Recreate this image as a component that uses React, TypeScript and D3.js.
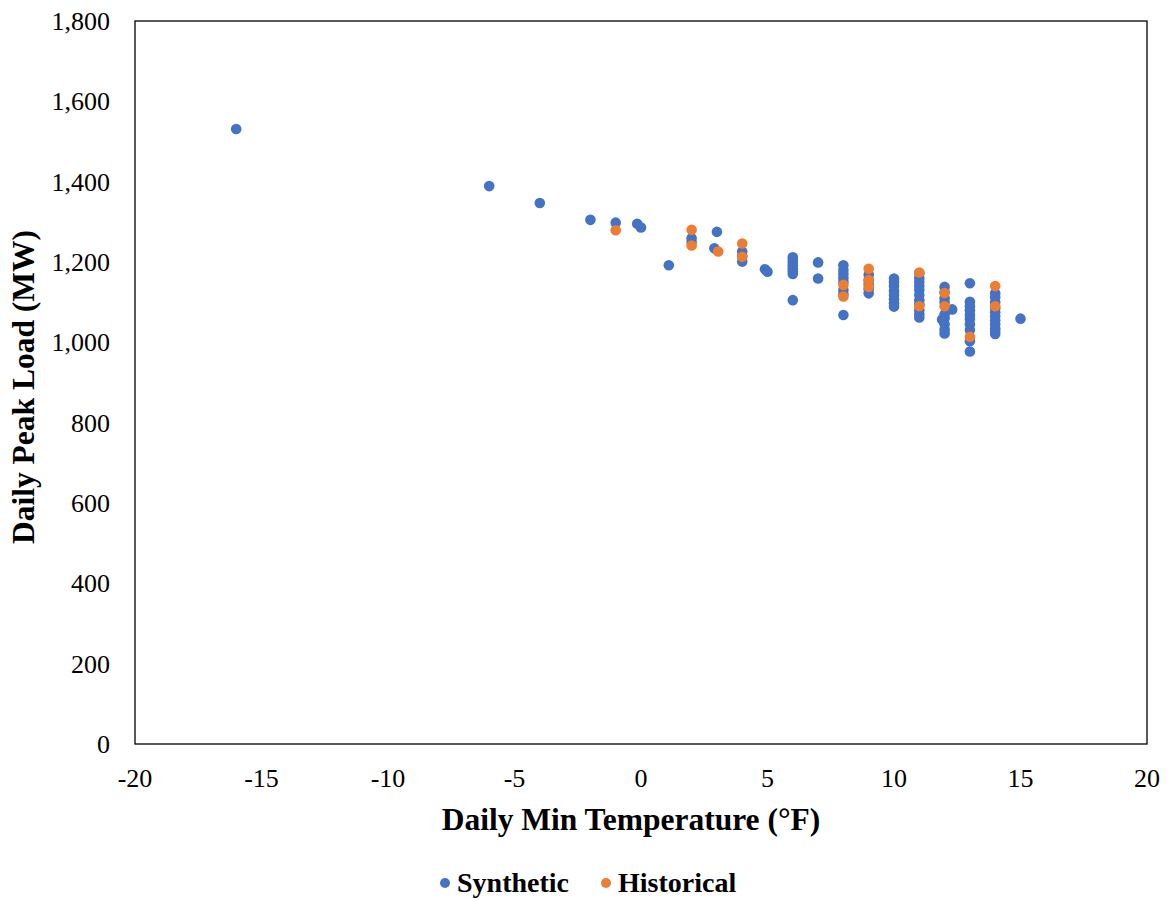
import React from "react";
import * as d3 from "d3";

const xTicks = [-20, -15, -10, -5, 0, 5, 10, 15, 20];
const yTicks = [0, 200, 400, 600, 800, 1000, 1200, 1400, 1600, 1800];

const synthTemp = [
  -16, -6, -4, -2, -1, -0.15, 0, 1.1,
  2, 2, 3, 2.9, 4, 4, 4, 4.9, 5,
  6, 6, 6, 6, 6, 6, 6, 6,
  7, 7,
  8, 8, 8, 8, 8, 8, 8, 8,
  9, 9, 9, 9, 9,
  10, 10, 10, 10, 10, 10, 10, 10,
  11, 11, 11, 11, 11, 11, 11, 11, 11, 11, 11,
  12, 12, 12, 12, 12, 12, 12, 12, 12, 12.3, 11.9,
  13, 13, 13, 13, 13, 13, 13, 13, 13, 13,
  14, 14, 14, 14, 14, 14, 14, 14, 14, 14, 14,
  15,
];
const synthLoad = [
  1531, 1389, 1347, 1305, 1298, 1295, 1286, 1192,
  1259, 1250, 1275, 1234, 1226, 1215, 1201, 1182, 1176,
  1212, 1205, 1198, 1191, 1184, 1177, 1170, 1105,
  1199, 1159,
  1192, 1180, 1170, 1160, 1150, 1130, 1120, 1068,
  1168, 1155, 1145, 1132, 1122,
  1159, 1150, 1140, 1128, 1118, 1107, 1097, 1089,
  1172, 1160, 1150, 1140, 1130, 1118, 1105, 1095, 1080, 1070, 1062,
  1138, 1125, 1110, 1100, 1070, 1060, 1045, 1032, 1022, 1082, 1057,
  1147, 1101, 1090, 1080, 1068, 1058, 1045, 1031, 1003, 977,
  1122, 1112, 1100, 1085, 1075, 1065, 1055, 1045, 1035, 1028, 1021,
  1059,
];

const histTemp = [-1, 2, 2, 3.05, 4, 4, 8, 8, 9, 9, 9, 11, 11, 12, 12, 13, 14, 14];
const histLoad = [1279, 1280, 1241, 1226, 1246, 1213, 1143, 1114, 1183, 1155, 1138, 1174, 1090, 1123, 1090, 1014, 1140, 1090];

const BLUE = "#4472C4";
const ORANGE = "#ED7D31";
const FONT = "'Liberation Serif', 'Times New Roman', serif";

export default function App() {
  const W = 1167, H = 900;
  const left = 135, right = 1147, top = 21, bottom = 744;
  const x = d3.scaleLinear().domain([-20, 20]).range([left, right]);
  const y = d3.scaleLinear().domain([0, 1800]).range([bottom, top]);
  const fmt = d3.format(",");
  const r = 5.3;

  return (
    <svg width={W} height={H} style={{ position: "absolute", left: 0, top: 0 }} fontFamily={FONT}>
      <rect x={0} y={0} width={W} height={H} fill="white" />
      <rect x={left} y={top} width={right - left} height={bottom - top} fill="none" stroke="#000" strokeWidth={1.3} />
      {yTicks.map((t) => (
        <text key={t} x={110} y={y(t)} dy="0.35em" textAnchor="end" fontSize={26} fill="#000">
          {fmt(t)}
        </text>
      ))}
      {xTicks.map((t) => (
        <text key={t} x={x(t)} y={787} textAnchor="middle" fontSize={26} fill="#000">
          {t}
        </text>
      ))}
      {synthTemp.map((t, i) => (
        <circle key={"s" + i} cx={x(t)} cy={y(synthLoad[i])} r={r} fill={BLUE} />
      ))}
      {histTemp.map((t, i) => (
        <circle key={"h" + i} cx={x(t)} cy={y(histLoad[i])} r={r} fill={ORANGE} />
      ))}
      <text x={631} y={830} textAnchor="middle" fontSize={31.5} fontWeight="bold" fill="#000">
        Daily Min Temperature (°F)
      </text>
      <text transform={`translate(34,387) rotate(-90)`} textAnchor="middle" fontSize={31.5} fontWeight="bold" fill="#000">
        Daily Peak Load (MW)
      </text>
      <circle cx={445} cy={883} r={5} fill={BLUE} />
      <text x={457} y={892} fontSize={28} fontWeight="bold" fill="#000">Synthetic</text>
      <circle cx={606} cy={883} r={5} fill={ORANGE} />
      <text x={618} y={892} fontSize={28} fontWeight="bold" fill="#000">Historical</text>
    </svg>
  );
}
